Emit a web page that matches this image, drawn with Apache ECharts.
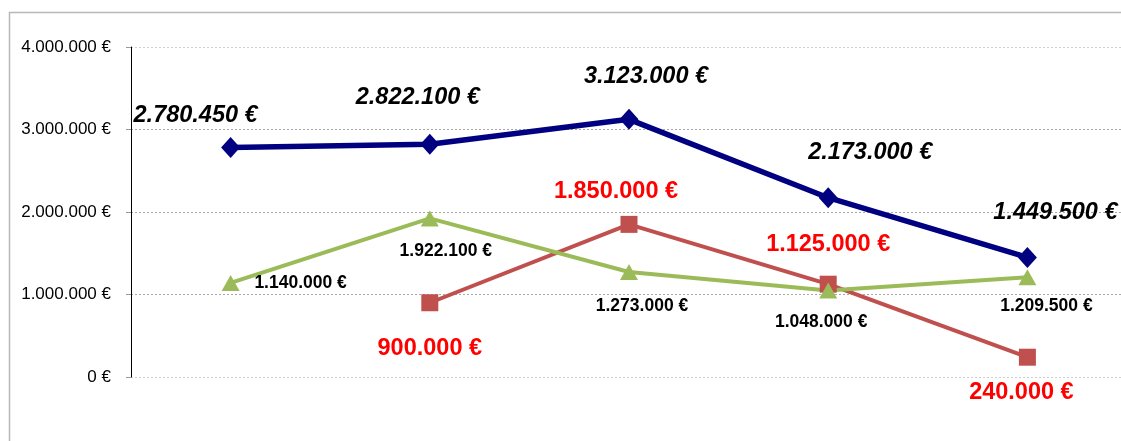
<!DOCTYPE html>
<html>
<head>
<meta charset="utf-8">
<script src="https://cdn.jsdelivr.net/npm/echarts@6/dist/echarts.min.js"></script>
<style>
  html, body { margin: 0; padding: 0; background: #fff; }
  #chart { width: 1121px; height: 441px; }
</style>
</head>
<body>
<div id="chart"></div>
<script>
// categories (no visible labels in the picture)
var categories = ['1', '2', '3', '4', '5'];
// series values
var navyValues = [2780450, 2822100, 3123000, 2173000, 1449500];
var redValues = [null, 900000, 1850000, 1125000, 240000];
var greenValues = [1140000, 1922100, 1273000, 1048000, 1209500];
// y tick settings
var yMin = 0;
var yMax = 4000000;
var yStep = 1000000;

// 1234567 -> "1.234.567 €"
function euro(v) {
    return String(Math.round(v)).replace(/\B(?=(\d{3})+(?!\d))/g, '.') + ' €';
}

// label offsets from the point centre (style only)
var navyOffsets = [[-35, -32], [-12, -47], [17, -43], [42, -45], [28, -45]];
var redOffsets = [[0, 0], [0, 46], [-13, -33], [0, -40], [-6, 35]];
var greenOffsets = [[70, 0], [16, 33], [13, 34], [-7, 32], [19, 29]];

function points(values, offsets) {
    return values.map(function (v, i) {
        if (v === null) return '-';
        return { value: v, label: { offset: offsets[i] } };
    });
}

var option = {
    animation: false,
    graphic: [{
        type: 'rect',
        left: 7, top: 10,
        shape: { width: 1300, height: 600 },
        style: { fill: 'none', stroke: '#b8b8b8', lineWidth: 1.5 },
        silent: true
    }],
    grid: {
        left: 131, top: 47, width: 996, height: 330,
        outerBoundsMode: 'none'
    },
    xAxis: {
        type: 'category',
        data: categories,
        boundaryGap: true,
        axisLine: { show: false },
        axisTick: { show: false },
        axisLabel: { show: false }
    },
    yAxis: {
        type: 'value',
        min: yMin, max: yMax, interval: yStep,
        axisLine: { show: true, lineStyle: { color: '#000', width: 1 } },
        axisTick: { show: true, length: 5, lineStyle: { color: '#999' } },
        axisLabel: {
            formatter: euro,
            color: '#000',
            fontFamily: 'Liberation Sans',
            fontSize: 17,
            margin: 20
        },
        splitLine: {
            show: true,
            lineStyle: {
                color: ['#cfcfcf', '#a8a8a8', '#a8a8a8', '#a8a8a8', '#cfcfcf'],
                type: [2, 2],
                width: 1
            }
        }
    },
    series: [
        {
            name: 'red',
            type: 'line',
            data: points(redValues, redOffsets),
            lineStyle: { color: '#C0504D', width: 4 },
            itemStyle: { color: '#C0504D' },
            symbol: 'rect', symbolSize: 17,
            label: {
                show: true, position: 'inside',
                formatter: function (p) { return euro(p.value); },
                color: '#ff0000', fontFamily: 'Liberation Sans',
                fontWeight: 'bold', fontSize: 23.5
            }
        },
        {
            name: 'green',
            type: 'line',
            data: points(greenValues, greenOffsets),
            lineStyle: { color: '#9BBB59', width: 4 },
            itemStyle: { color: '#9BBB59' },
            symbol: 'triangle', symbolSize: [18, 16],
            label: {
                show: true, position: 'inside',
                formatter: function (p) { return euro(p.value); },
                color: '#000', fontFamily: 'Liberation Sans',
                fontWeight: 'bold', fontSize: 17.5
            }
        },
        {
            name: 'navy',
            type: 'line',
            data: points(navyValues, navyOffsets),
            lineStyle: { color: '#000080', width: 5.5 },
            itemStyle: { color: '#000080' },
            symbol: 'diamond', symbolSize: [19, 21],
            label: {
                show: true, position: 'inside',
                formatter: function (p) { return euro(p.value); },
                color: '#000', fontFamily: 'Liberation Sans',
                fontWeight: 'bold', fontStyle: 'italic', fontSize: 23.5
            }
        }
    ]
};

var myechart = echarts.init(document.getElementById('chart'));
myechart.setOption(option);
</script>
</body>
</html>
